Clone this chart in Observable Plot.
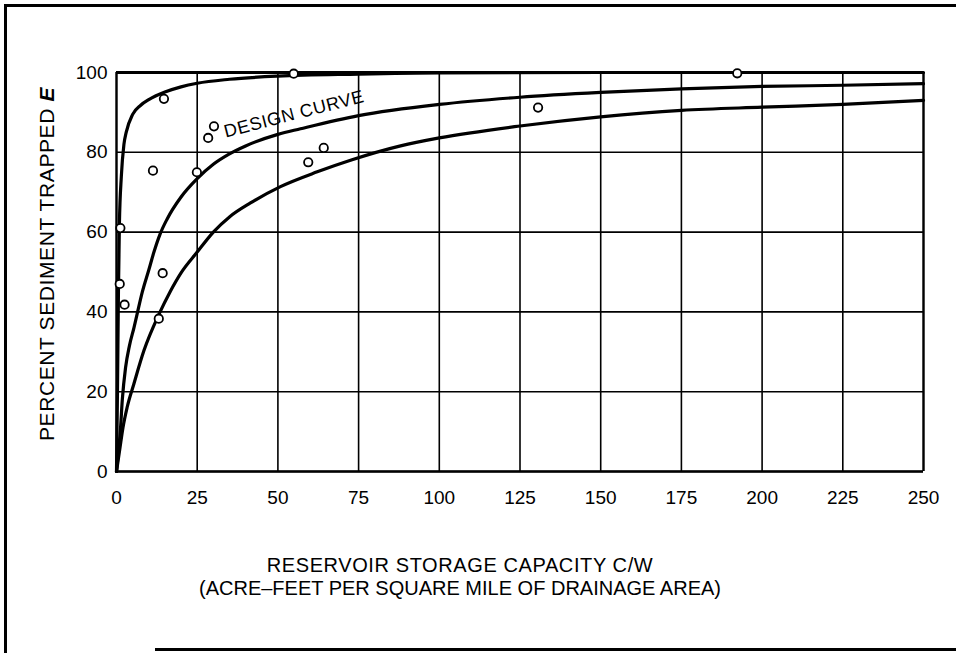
<!DOCTYPE html>
<html>
<head>
<meta charset="utf-8">
<script src="https://cdn.jsdelivr.net/npm/d3@7"></script>
<script src="https://cdn.jsdelivr.net/npm/@observablehq/plot@0.6"></script>
<style>
  html, body { margin: 0; padding: 0; background: #fff; }
  #wrap { position: relative; width: 956px; height: 653px; overflow: hidden; }
  #wrap svg { position: absolute; left: 0; top: 0; }
  .frame-lt { position: absolute; left: 4px; top: 4px; width: 1000px; height: 700px;
              border-left: 3px solid #000; border-top: 3px solid #000; box-sizing: border-box; }
  .frame-b { position: absolute; left: 155px; top: 648px; width: 900px; height: 0;
             border-top: 3px solid #000; }
</style>
</head>
<body>
<div id="wrap">
  <div class="frame-lt"></div>
  <div class="frame-b"></div>
</div>
<script>
// Tick values
const xTicks = [0, 25, 50, 75, 100, 125, 150, 175, 200, 225, 250];
const yTicks = [0, 20, 40, 60, 80, 100];

// Upper envelope curve
const envX = [0, 0.3, 0.6, 0.9, 1.5, 2.3, 3, 5, 7.5, 10, 15, 20, 25, 35, 50, 75, 100, 150, 200, 250];
const envY = [0, 20, 45, 62, 74, 82, 85, 89.5, 91.8, 93.2, 95.1, 96.4, 97.3, 98.3, 99.1, 99.6, 99.9, 100, 100, 100];

// Design curve (middle)
const designX = [0, 0.6, 1.2, 1.8, 2.8, 4, 5.4, 6.4, 8, 10, 11.6, 13.5, 15.7, 20, 25, 30, 35, 40, 50, 57, 75, 100, 125, 150, 175, 200, 225, 250];
const designY = [0, 5, 10.3, 18, 26, 31.5, 36, 39.5, 45, 50.5, 55, 59.5, 63.3, 68.8, 73.4, 77, 79.6, 81.6, 84.5, 85.9, 89.2, 92, 93.8, 95, 95.9, 96.5, 96.8, 97.2];

// Lower envelope curve
const lowerX = [0, 1, 2, 3.3, 5.4, 8.5, 13.1, 16.7, 20, 25, 30, 35, 41.5, 50.8, 62.2, 72.5, 88, 100, 125, 150, 175, 200, 225, 250];
const lowerY = [0, 5.5, 11, 16.1, 22, 30.3, 39.3, 45.2, 49.8, 55, 60, 63.8, 67.3, 71.4, 75.1, 78, 81.6, 83.6, 86.6, 88.9, 90.5, 91.3, 92, 93];

// Observed reservoirs
const ptX = [1.0, 1.2, 2.5, 11.3, 13.1, 14.3, 14.7, 24.9, 28.4, 30.2, 54.9, 59.4, 64.2, 130.6, 192.3];
const ptY = [47, 61, 41.8, 75.4, 38.3, 49.7, 93.4, 75, 83.6, 86.5, 99.7, 77.5, 81.1, 91.2, 99.8];

const curveLabel = "DESIGN CURVE";
const yLabel = "PERCENT SEDIMENT TRAPPED";
const yLabelItalic = " E";
const xLabel1 = "RESERVOIR STORAGE CAPACITY C/W";
const xLabel2 = "(ACRE\u2013FEET PER SQUARE MILE OF DRAINAGE AREA)";

const toRows = (xs, ys) => xs.map((x, i) => ({x, y: ys[i]}));
const env = toRows(envX, envY);
const design = toRows(designX, designY);
const lower = toRows(lowerX, lowerY);
const pts = toRows(ptX, ptY);

const font = "'Liberation Sans', Arial, Helvetica, sans-serif";

const chart = Plot.plot({
  width: 956,
  height: 653,
  marginLeft: 116,
  marginRight: 33,
  marginTop: 72,
  marginBottom: 182,
  style: { fontFamily: font, fontSize: "19px", color: "#000", background: "transparent", overflow: "visible" },
  x: { domain: [0, 250] },
  y: { domain: [0, 100] },
  marks: [
    Plot.ruleX(xTicks, { stroke: "#000", strokeWidth: 1.6 }),
    Plot.ruleY(yTicks, { stroke: "#000", strokeWidth: 1.6 }),
    Plot.ruleX([xTicks[0], xTicks[xTicks.length - 1]], { stroke: "#000", strokeWidth: 2.2 }),
    Plot.ruleY([yTicks[0]], { stroke: "#000", strokeWidth: 2.4 }),
    Plot.ruleY([yTicks[yTicks.length - 1]], { stroke: "#000", strokeWidth: 3 }),
    Plot.axisX({ ticks: xTicks, tickSize: 0, tickPadding: 19, label: null, fontSize: 19 }),
    Plot.axisY({ ticks: yTicks, tickSize: 0, tickPadding: 9, label: null, fontSize: 19 }),
    Plot.line(lower, { x: "x", y: "y", stroke: "#000", strokeWidth: 3.2, curve: "monotone-x" }),
    Plot.line(design, { x: "x", y: "y", stroke: "#000", strokeWidth: 3.2, curve: "monotone-x" }),
    Plot.line(env, { x: "x", y: "y", stroke: "#000", strokeWidth: 3.2, curve: "monotone-x" }),
    Plot.dot(pts, { x: "x", y: "y", r: 4.2, stroke: "#000", strokeWidth: 1.8, fill: "#fff" }),
    Plot.text([curveLabel], { x: () => 55, y: () => 89.6, text: d => d, rotate: -14.5, fontSize: 18, fill: "#000" }),
    Plot.text([xLabel1], { frameAnchor: "bottom", text: d => d, dx: -60, dy: 94, fontSize: 20, lineAnchor: "middle", fill: "#000" }),
    Plot.text([xLabel2], { frameAnchor: "bottom", text: d => d, dx: -60, dy: 117, fontSize: 20, lineAnchor: "middle", fill: "#000" }),
    Plot.text([yLabel], { frameAnchor: "left", text: d => d, rotate: -90, dx: -69, dy: -8, fontSize: 21, textAnchor: "middle", lineAnchor: "middle", fill: "#000" })
  ]
});

// styles: letter spacing & bold italic E
d3.select(chart).selectAll("text").each(function () {
  const t = this.textContent;
  if (t === xLabel1) d3.select(this).style("letter-spacing", "0.6px");
  if (t === curveLabel) d3.select(this).style("letter-spacing", "0.6px");
  if (t === yLabel) {
    d3.select(this).style("letter-spacing", "0.6px");
    d3.select(this).append("tspan").text(yLabelItalic)
      .style("font-weight", "bold").style("font-style", "italic");
  }
});

document.getElementById("wrap").appendChild(chart);
</script>
</body>
</html>
